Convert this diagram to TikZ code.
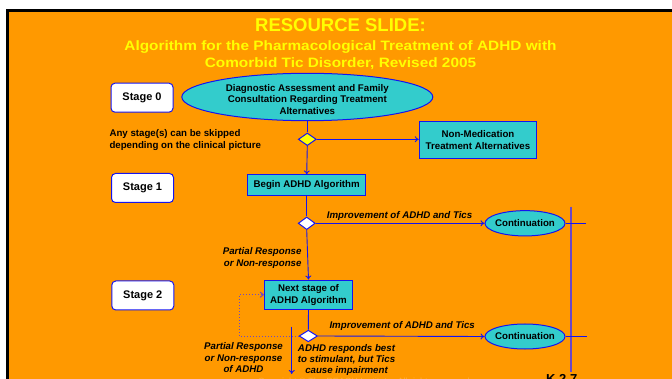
\documentclass[tikz,border=0pt]{standalone}
\usepackage{graphicx}
\usepackage{fontspec}
\setmainfont{Liberation Sans}
\usetikzlibrary{shapes.geometric,arrows.meta}
\definecolor{slideorange}{HTML}{FF9900}
\definecolor{boxcyan}{HTML}{33CCCC}
\definecolor{lineblue}{HTML}{1414F0}
\definecolor{titleyellow}{HTML}{FFFF00}
\definecolor{sidepurple}{HTML}{6A48C8}
\newcommand{\lblfont}{\fontsize{9.7}{11.8}\selectfont\bfseries}
\newcommand{\widesub}[1]{\scalebox{1.13}[1]{#1}}
\begin{document}
\begin{tikzpicture}[x=1pt,y=-1pt,
  conn/.style={draw=lineblue, line width=0.9pt},
  arr/.style={conn, -{To[length=4pt,width=6pt]}},
  stagebox/.style={draw=lineblue, fill=white, rounded corners=4pt, line width=1pt,
    minimum width=62pt, minimum height=29pt, inner sep=0pt,
    font=\fontsize{11}{13}\selectfont\bfseries},
  stepbox/.style={draw=lineblue, fill=boxcyan, line width=1pt, inner sep=0pt,
    align=center, font=\lblfont},
  ovalbox/.style={ellipse, draw=lineblue, fill=boxcyan, line width=1pt, inner sep=0pt},
  choice/.style={diamond, draw=lineblue, line width=1pt, inner sep=0pt,
    minimum width=18pt, minimum height=12.6pt},
  note/.style={font=\fontsize{9.7}{11.8}\selectfont\bfseries\itshape, inner sep=0pt},
  titletext/.style={text=titleyellow, inner sep=0pt, anchor=base}
]
\useasboundingbox (0,0) rectangle (672,379);
% slide frame
\fill[white] (0,0) rectangle (672,379);
\fill[black] (6,9) rectangle (680,390);
\fill[slideorange] (9,12) rectangle (680,390);

% title
\node[titletext, font=\fontsize{18.5}{20}\selectfont\bfseries] (title) at (340.5,32) {RESOURCE SLIDE:};
\node[titletext, font=\fontsize{13.6}{15}\selectfont\bfseries] (subtitleA) at (340.5,50.5) {\widesub{Algorithm for the Pharmacological Treatment of ADHD with}};
\node[titletext, font=\fontsize{13.6}{15}\selectfont\bfseries] (subtitleB) at (340.5,67.5) {\widesub{Comorbid Tic Disorder, Revised 2005}};

% stage markers
\node[stagebox] (stage0) at (142,97.7) {Stage 0};
\node[stagebox] (stage1) at (142.5,188) {Stage 1};
\node[stagebox] (stage2) at (142.8,295.5) {Stage 2};

% main flow
\node[ovalbox, minimum width=251pt, minimum height=47.4pt,
  label={[font=\lblfont, align=center, yshift=-2.5pt]center:Diagnostic Assessment and Family\\Consultation Regarding Treatment\\Alternatives}] (assess) at (307.3,97) {};
\node[choice, fill=titleyellow] (d0) at (307.3,139.3) {};
\node[stepbox, minimum width=117.4pt, minimum height=36.6pt] (nonmed) at (478,140) {Non-Medication\\Treatment Alternatives};
\node[stepbox, minimum width=117.6pt, minimum height=20.7pt] (begin) at (306.7,185.3) {Begin ADHD Algorithm};
\node[choice, fill=white, minimum width=17pt] (d1) at (306.7,223.3) {};
\node[ovalbox, minimum width=80pt, minimum height=25.3pt,
  label={[font=\lblfont]center:Continuation}] (cont1) at (525,223.3) {};
\node[stepbox, minimum width=88.4pt, minimum height=29.3pt] (next) at (308.5,294.7) {Next stage of\\ADHD Algorithm};
\node[choice, fill=white, minimum width=18.4pt, minimum height=11.6pt] (d2) at (308.3,336) {};
\node[ovalbox, minimum width=80pt, minimum height=25pt,
  label={[font=\lblfont]center:Continuation}] (cont2) at (525,336.5) {};

% free ends
\coordinate (loopcorner) at (239,336);
\coordinate (exittop) at (291.7,326.7);
\coordinate (exitbottom) at (291.7,374);
\coordinate (railtop) at (571,206.7);
\coordinate (railbottom) at (571,372);
\coordinate (stub1) at (586,223.3);
\coordinate (stub2) at (586.7,336.5);

% connectors
\draw[conn] (assess.south) -- (d0.north);
\draw[arr] (d0.east) -- (d0.east -| nonmed.west);
\draw[arr] (d0.south) -- (begin.north);
\draw[conn] (begin.south) -- (d1.north);
\draw[arr] (d1.east) -- (cont1.west);
\draw[arr] (d1.south) -- (next.north);
\draw[conn] (next.south) -- (d2.north);
\draw[arr] (d2.east) -- (cont2.west);
\draw[sidepurple, dotted, line width=1pt, -{To[length=4pt,width=6pt]}]
  (d2.west) -- (loopcorner) |- (next.west);
\draw[arr] (exittop) -- (exitbottom);
\draw[sidepurple, line width=1.3pt] (railtop) -- (railbottom);
\draw[conn] (cont1.east) -- (stub1);
\draw[conn] (cont2.east) -- (stub2);

% labels
\node[font=\lblfont, align=left, anchor=west, inner sep=0pt] (skipnote) at (109.3,139.7)
  {Any stage(s) can be skipped\\depending on the clinical picture};
\node[note, anchor=west] (improve1) at (326.7,216) {Improvement of ADHD and Tics};
\node[note, anchor=east, align=right] (partial1) at (301.7,258.3) {Partial Response\\or Non-response};
\node[note, anchor=west] (improve2) at (329.3,325.7) {Improvement of ADHD and Tics};
\node[note, align=center, font=\fontsize{9.7}{11.6}\selectfont\bfseries\itshape] (partial2) at (243.5,357.8)
  {Partial Response\\or Non-response\\of ADHD};
\node[note, align=center, font=\fontsize{9.7}{11.2}\selectfont\bfseries\itshape] (stimnote) at (346.5,360)
  {ADHD responds best\\to stimulant, but Tics\\cause impairment};
\node[font=\fontsize{13}{15}\selectfont\bfseries, anchor=base west, inner sep=0pt] (slideref) at (546,383.5) {K 2.7};
\node[font=\fontsize{9}{11}\selectfont, text=white, text opacity=0.22, anchor=base west, inner sep=0pt] (copyright) at (258,384)
  {Copyright © The REACH Institute. All rights reserved};
\end{tikzpicture}
\end{document}
